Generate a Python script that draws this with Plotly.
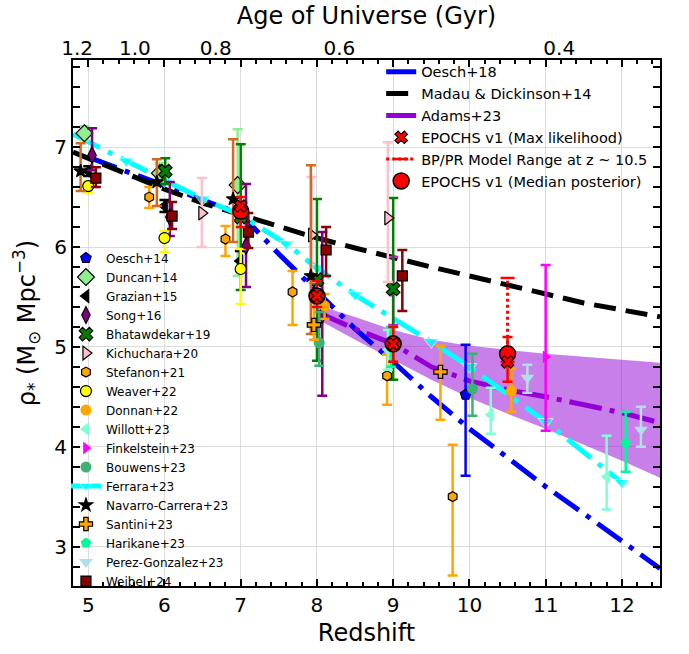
import numpy as np
import plotly.graph_objects as go

FONT = "DejaVu Sans"

# ---- literature stellar mass densities: redshift, log10 rho_*, lower / upper errors ----
oesch14_z, oesch14_rho, oesch14_lo, oesch14_hi = [9.95], [4.52], [0.81], [0.50]
duncan14_z, duncan14_rho = [4.95, 5.94, 6.96], [7.14, 6.74, 6.62]
duncan14_lo, duncan14_hi = [0.07, 0.10, 0.91], [0.07, 0.10, 0.56]
grazian15_z, grazian15_rho = [5.0, 6.0, 6.99], [6.76, 6.41, 5.86]
grazian15_lo, grazian15_hi = [0.05, 0.06, 0.10], [0.05, 0.06, 0.10]
song16_z, song16_rho = [5.05, 6.07, 7.07, 8.07], [6.92, 6.30, 6.01, 5.32]
song16_lo, song16_hi = [0.15, 0.19, 0.41, 0.81], [0.27, 0.35, 0.62, 0.83]
bhatawdekar19_z, bhatawdekar19_rho = [6.01, 7.0, 8.0, 9.0], [6.76, 6.30, 5.67, 5.58]
bhatawdekar19_lo, bhatawdekar19_hi = [0.13, 0.73, 0.81, 0.91], [0.13, 0.73, 0.81, 0.91]
kichuchara20_z, kichuchara20_rho = [6.49, 7.93, 8.93], [6.34, 6.12, 6.29]
kichuchara20_lo, kichuchara20_hi = [0.34, 0.47, 0.64], [0.35, 0.58, 0.76]
stefanon21_z, stefanon21_rho = [5.8, 6.8, 7.68, 8.92, 9.78], [6.50, 6.08, 5.55, 4.71, 3.50]
stefanon21_lo, stefanon21_hi = [0.11, 0.17, 0.33, 0.29, 0.79], [0.10, 0.13, 0.21, 0.21, 0.52]
weaver22_z, weaver22_rho = [5.0, 6.0, 7.0], [6.61, 6.09, 5.78]
weaver22_lo, weaver22_hi = [0.07, 0.14, 0.35], [0.05, 0.07, 0.20]
donnan22_z, donnan22_rho = [8.1, 10.55], [5.41, 4.56]
donnan22_lo, donnan22_hi = [0.13, 0.21], [0.12, 0.22]
willott23_z, willott23_rho = [8.93, 10.28, 11.8], [4.97, 4.32, 3.70]
willott23_lo, willott23_hi = [0.20, 0.19, 0.33], [0.20, 0.27, 0.41]
finkelstein23_z, finkelstein23_rho = [9.0, 11.0], [5.56, 4.90]
finkelstein23_lo, finkelstein23_hi = [0.34, 0.74], [0.34, 0.92]
bouwens23_z, bouwens23_rho = [8.03, 10.04], [5.04, 4.58]
bouwens23_lo, bouwens23_hi = [0.23, 0.27], [0.31, 0.35]
navarro23_z, navarro23_rho = [4.9, 5.9, 6.9, 7.92], [6.76, 6.65, 6.48, 5.71]
navarro23_lo, navarro23_hi = [0.20, 0.24, 0.43, 0.58], [0.28, 0.23, 0.60, 1.11]
santini23_z, santini23_rho = [7.96, 9.62], [5.22, 4.75]
santini23_lo, santini23_hi = [0.15, 0.48], [0.25, 0.26]
harikane23_z, harikane23_rho = [8.97, 12.05], [5.00, 4.04]
harikane23_lo, harikane23_hi = [0.20, 0.29], [0.20, 0.31]
perez23_z, perez23_rho = [10.76, 12.25], [4.69, 4.17]
perez23_lo, perez23_hi = [0.15, 0.17], [0.13, 0.23]
weibel24_z, weibel24_rho = [5.1, 6.1, 7.1, 8.12, 9.12], [6.69, 6.31, 6.15, 5.97, 5.71]
weibel24_lo, weibel24_hi = [0.09, 0.13, 0.16, 0.26, 0.35], [0.11, 0.14, 0.19, 0.23, 0.26]

# ---- model curves ----
ferrara23_z = [4.8, 5.5, 6.0, 6.5, 7.0, 7.6, 8.0, 8.5, 9.5, 10.0, 11.0, 12.0]
ferrara23_rho = [7.13, 6.86, 6.66, 6.48, 6.32, 6.03, 5.79, 5.52, 5.05, 4.80, 4.25, 3.64]
ferrara23_marked = [5.5, 6.0, 6.5, 7.6, 8.0, 8.5, 9.5, 10.0, 11.0, 12.0]

oesch18_z = [5.0, 6.0, 7.0, 7.5, 8.0, 8.5, 9.0, 9.5, 10.0, 10.5, 11.0, 11.5, 12.0, 12.5]
oesch18_rho = [6.90, 6.61, 6.33, 5.93, 5.56, 5.18, 4.85, 4.50, 4.18, 3.89, 3.60, 3.33, 3.06, 2.78]

madau14_z = [4.8, 5.5, 6.0, 6.5, 7.0, 7.5, 8.0, 8.5, 9.0, 9.5, 10.0, 10.5, 11.0, 11.5, 12.0, 12.5]
madau14_rho = [6.95, 6.73, 6.58, 6.44, 6.32, 6.20, 6.09, 5.99, 5.89, 5.80, 5.71, 5.62, 5.52, 5.44, 5.37, 5.30]

adams23_z = [8.0, 8.5, 9.0, 9.5, 10.0, 10.5, 11.0, 11.5, 12.0, 12.5]
adams23_rho = [5.35, 5.18, 5.03, 4.80, 4.66, 4.57, 4.50, 4.42, 4.34, 4.24]
adams23_upper = [5.42, 5.30, 5.17, 5.07, 5.01, 4.97, 4.93, 4.90, 4.87, 4.84]
adams23_lower = [5.28, 5.07, 4.87, 4.67, 4.49, 4.33, 4.18, 4.02, 3.86, 3.69]

# ---- EPOCHS v1 ----
epochs_z = [7.0, 8.0, 9.0, 10.5]
epochs_median = [6.36, 5.51, 5.03, 4.93]
epochs_lo = [0.16, 0.11, 0.18, 0.28]
epochs_hi = [0.14, 0.15, 0.17, 0.17]
epochs_maxlike = [6.41, 5.51, 5.03, 4.85]
bp_pr_z = [10.5, 10.5]
bp_pr_range = [4.85, 5.69]

# ---- age of the Universe ticks (top axis) ----
age_ticks = [1.2, 1.0, 0.8, 0.6, 0.4]


def z_from_age(t_gyr):
    # matter-dominated approximation of t(z), normalised to the adopted cosmology
    return (17.0 / np.asarray(t_gyr)) ** (2.0 / 3.0) - 1.0


fig = go.Figure()

# Adams+23 uncertainty band
fig.add_trace(go.Scatter(
    x=adams23_z + adams23_z[::-1], y=adams23_upper + adams23_lower[::-1],
    fill="toself", fillcolor="rgba(148,0,211,0.5)", line=dict(width=0),
    mode="lines", showlegend=False, hoverinfo="skip"))

# model curves
fig.add_trace(go.Scatter(
    x=oesch18_z, y=oesch18_rho, mode="lines", name="Oesch+18",
    line=dict(color="blue", width=5, dash="30px,9px,5px,9px"),
    legend="legend", legendrank=1))
fig.add_trace(go.Scatter(
    x=madau14_z, y=madau14_rho, mode="lines", name="Madau & Dickinson+14",
    line=dict(color="black", width=5, dash="22px,10px"),
    legend="legend", legendrank=2))
fig.add_trace(go.Scatter(
    x=adams23_z, y=adams23_rho, mode="lines", name="Adams+23",
    line=dict(color="#9400d3", width=5, dash="33px,8px,5px,8px"),
    legend="legend", legendrank=3))
fig.add_trace(go.Scatter(
    x=ferrara23_z, y=ferrara23_rho, mode="lines+markers", name="Ferrara+23",
    line=dict(color="cyan", width=5, dash="30px,9px,5px,9px"),
    marker=dict(symbol="triangle-down", color="cyan",
                size=[13 if z in ferrara23_marked else 0 for z in ferrara23_z]),
    legend="legend2", legendrank=13))


def add_points(name, z, rho, lo, hi, rank, symbol, color, size=11,
               edge="black", edge_width=1.2, bar_color=None):
    fig.add_trace(go.Scatter(
        x=z, y=rho, mode="markers", name=name, legend="legend2", legendrank=rank,
        marker=dict(symbol=symbol, color=color, size=size,
                    line=dict(color=edge, width=edge_width)),
        error_y=dict(type="data", symmetric=False, array=hi, arrayminus=lo,
                     color=bar_color or color, thickness=2.5, width=5)))


add_points("Finkelstein+23", finkelstein23_z, finkelstein23_rho, finkelstein23_lo,
           finkelstein23_hi, 11, "triangle-right", "magenta", size=11,
           edge="magenta", edge_width=0)
add_points("Oesch+14", oesch14_z, oesch14_rho, oesch14_lo, oesch14_hi, 1,
           "pentagon", "blue", size=11)
add_points("Duncan+14", duncan14_z, duncan14_rho, duncan14_lo, duncan14_hi, 2,
           "diamond", "lightgreen", size=13)
add_points("Grazian+15", grazian15_z, grazian15_rho, grazian15_lo, grazian15_hi, 3,
           "triangle-left", "black", size=11)
add_points("Song+16", song16_z, song16_rho, song16_lo, song16_hi, 4,
           "diamond-tall", "purple", size=12)
add_points("Bhatawdekar+19", bhatawdekar19_z, bhatawdekar19_rho, bhatawdekar19_lo,
           bhatawdekar19_hi, 5, "x", "green", size=12)
add_points("Kichuchara+20", kichuchara20_z, kichuchara20_rho, kichuchara20_lo,
           kichuchara20_hi, 6, "triangle-right", "pink", size=12)
add_points("Stefanon+21", stefanon21_z, stefanon21_rho, stefanon21_lo, stefanon21_hi, 7,
           "hexagon", "orange", size=10)
add_points("Weaver+22", weaver22_z, weaver22_rho, weaver22_lo, weaver22_hi, 8,
           "circle", "yellow", size=11)
add_points("Donnan+22", donnan22_z, donnan22_rho, donnan22_lo, donnan22_hi, 9,
           "circle", "orange", size=11, edge="orange", edge_width=0)
add_points("Willott+23", willott23_z, willott23_rho, willott23_lo, willott23_hi, 10,
           "triangle-left", "aquamarine", size=12, edge="aquamarine", edge_width=0)
add_points("Bouwens+23", bouwens23_z, bouwens23_rho, bouwens23_lo, bouwens23_hi, 12,
           "circle", "mediumseagreen", size=11, edge="mediumseagreen", edge_width=0)
add_points("Navarro-Carrera+23", navarro23_z, navarro23_rho, navarro23_lo, navarro23_hi,
           14, "star", "black", size=10, bar_color="chocolate")
add_points("Santini+23", santini23_z, santini23_rho, santini23_lo, santini23_hi, 15,
           "cross", "orange", size=11)
add_points("Harikane+23", harikane23_z, harikane23_rho, harikane23_lo, harikane23_hi, 16,
           "pentagon", "mediumspringgreen", size=11, edge="mediumspringgreen",
           edge_width=0)
add_points("Perez-Gonzalez+23", perez23_z, perez23_rho, perez23_lo, perez23_hi, 17,
           "triangle-down", "powderblue", size=12, edge="powderblue", edge_width=0)
add_points("Weibel+24", weibel24_z, weibel24_rho, weibel24_lo, weibel24_hi, 18,
           "square", "darkred", size=10)

# EPOCHS v1 results
fig.add_trace(go.Scatter(
    x=bp_pr_z, y=bp_pr_range, mode="lines+markers",
    name="BP/PR Model Range at z ~ 10.5",
    line=dict(color="red", width=3, dash="dot"),
    marker=dict(symbol="line-ew", size=10, line=dict(color="red", width=2.5)),
    legend="legend", legendrank=5))
fig.add_trace(go.Scatter(
    x=epochs_z, y=epochs_median, mode="markers", name="EPOCHS v1 (Median posterior)",
    marker=dict(symbol="circle", color="red", size=16, line=dict(color="black", width=1.5)),
    error_y=dict(type="data", symmetric=False, array=epochs_hi, arrayminus=epochs_lo,
                 color="red", thickness=2.5, width=5),
    legend="legend", legendrank=6))
fig.add_trace(go.Scatter(
    x=epochs_z, y=epochs_maxlike, mode="markers", name="EPOCHS v1 (Max likelihood)",
    marker=dict(symbol="x", color="red", size=11, line=dict(color="black", width=1.2)),
    legend="legend", legendrank=4))

# carrier for the top (age) axis
age_z = z_from_age(age_ticks)
fig.add_trace(go.Scatter(x=list(age_z), y=[None] * len(age_ticks), xaxis="x2",
                         mode="markers", showlegend=False, hoverinfo="skip"))

axis_common = dict(showline=True, linecolor="black", linewidth=2, mirror="allticks",
                   ticks="inside", ticklen=7, tickwidth=1.5, tickcolor="black",
                   showgrid=True, gridcolor="#dcdcdc", gridwidth=1.3, zeroline=False,
                   tickfont=dict(family=FONT, size=20, color="black"))

fig.update_layout(
    width=689, height=654,
    margin=dict(l=73, r=29, t=60, b=65),
    paper_bgcolor="white", plot_bgcolor="white",
    font=dict(family=FONT, color="black"),
    xaxis=dict(range=[4.8, 12.5], dtick=1, tick0=5,
               minor=dict(dtick=0.2, ticks="inside", ticklen=4, tickcolor="black",
                          showgrid=False),
               title=dict(text="Redshift", font=dict(family=FONT, size=24), standoff=8),
               **axis_common),
    xaxis2=dict(range=[4.8, 12.5], overlaying="x", side="top", anchor="y",
                tickmode="array", tickvals=list(age_z),
                ticktext=[f"{t:.1f}" for t in age_ticks], ticks="", showgrid=False,
                showline=False, zeroline=False,
                tickfont=dict(family=FONT, size=20, color="black"),
                title=dict(text="Age of Universe (Gyr)", font=dict(family=FONT, size=24),
                           standoff=4)),
    yaxis=dict(range=[2.605, 7.873], dtick=1,
               minor=dict(dtick=0.2, ticks="inside", ticklen=4, tickcolor="black",
                          showgrid=False),
               title=dict(text="ρ<sub>*</sub> (M<sub>⊙</sub> Mpc<sup>−3</sup>)",
                          font=dict(family=FONT, size=24), standoff=12),
               **axis_common),
    legend=dict(x=0.525, y=1.008, xanchor="left", yanchor="top", bgcolor="rgba(0,0,0,0)",
                font=dict(family=FONT, size=14.5), tracegroupgap=0),
    legend2=dict(x=-0.012, y=0.651, xanchor="left", yanchor="top",
                 bgcolor="rgba(0,0,0,0)", font=dict(family=FONT, size=12),
                 tracegroupgap=0),
)

fig.write_html("out.html")
